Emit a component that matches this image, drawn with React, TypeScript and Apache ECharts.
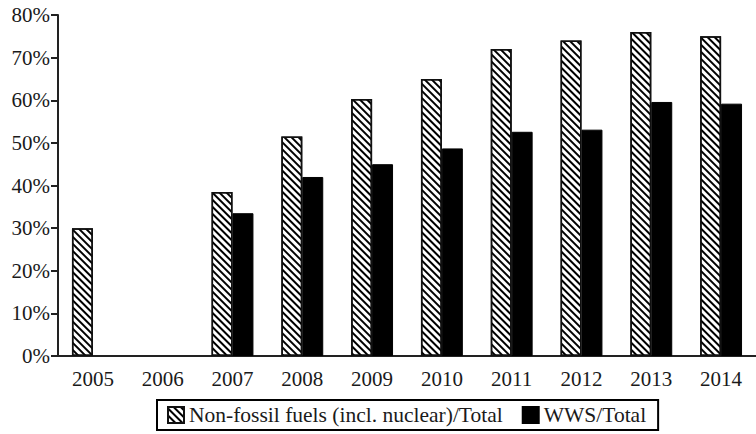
import React, { useEffect, useRef } from "react";
import * as echarts from "echarts";

const years = ["2005", "2006", "2007", "2008", "2009", "2010", "2011", "2012", "2013", "2014"];
const nonFossil = [30, null, 38.5, 51.5, 60.3, 65, 72, 74, 76, 75];
const wws = [null, null, 33.5, 42, 45, 48.7, 52.6, 53.1, 59.6, 59.2];
const seriesNames = ["Non-fossil fuels (incl. nuclear)/Total", "WWS/Total"];

const FONT = "Liberation Serif";
const TXT = "#1a1a1a";

export default function App() {
  const ref = useRef<HTMLDivElement>(null);
  useEffect(() => {
    if (!ref.current) return;
    const chart = echarts.init(ref.current, undefined, { renderer: "svg" });
    const hatch = {
      symbol: "rect",
      symbolSize: 1,
      dashArrayX: [1, 0],
      dashArrayY: [1.9, 2.5],
      rotation: Math.PI / 4,
      color: "#000",
      backgroundColor: "#fff",
    };
    chart.setOption({
      animation: false,
      backgroundColor: "#fff",
      grid: { left: 58, right: -3, top: 15, bottom: 78 },
      legend: {
        left: 157,
        top: 400,
        padding: [4, 12, 4, 10],
        borderColor: "#000",
        borderWidth: 2,
        itemWidth: 16,
        itemHeight: 16,
        itemGap: 19,
        textStyle: { fontFamily: FONT, fontSize: 21.5, color: TXT },
        data: [
          { name: seriesNames[0], icon: "rect" },
          { name: seriesNames[1], icon: "rect" },
        ],
      },
      xAxis: {
        type: "category",
        data: years,
        axisLine: { lineStyle: { color: "#222", width: 2 } },
        axisTick: { length: 7, lineStyle: { color: "#222", width: 2 } },
        axisLabel: { fontFamily: FONT, fontSize: 21, color: TXT, margin: 12 },
      },
      yAxis: {
        type: "value",
        min: 0,
        max: 80,
        interval: 10,
        axisLine: { show: true, lineStyle: { color: "#222", width: 2 } },
        axisTick: { show: true, length: 7, lineStyle: { color: "#222", width: 2 } },
        splitLine: { show: false },
        axisLabel: { fontFamily: FONT, fontSize: 21, color: TXT, margin: 8, formatter: "{value}%" },
      },
      series: [
        {
          name: seriesNames[0],
          type: "bar",
          data: nonFossil,
          barGap: "0%",
          barCategoryGap: "40%",
          itemStyle: { color: "#fff", borderColor: "#111", borderWidth: 1.5, decal: hatch },
        },
        {
          name: seriesNames[1],
          type: "bar",
          data: wws,
          barGap: "0%",
          barCategoryGap: "40%",
          itemStyle: { color: "#000", borderColor: "#000", borderWidth: 1 },
        },
      ],
    });
    return () => chart.dispose();
  }, []);
  return (
    <div
      ref={ref}
      style={{ position: "absolute", left: 0, top: 0, width: 756, height: 434 }}
    />
  );
}
